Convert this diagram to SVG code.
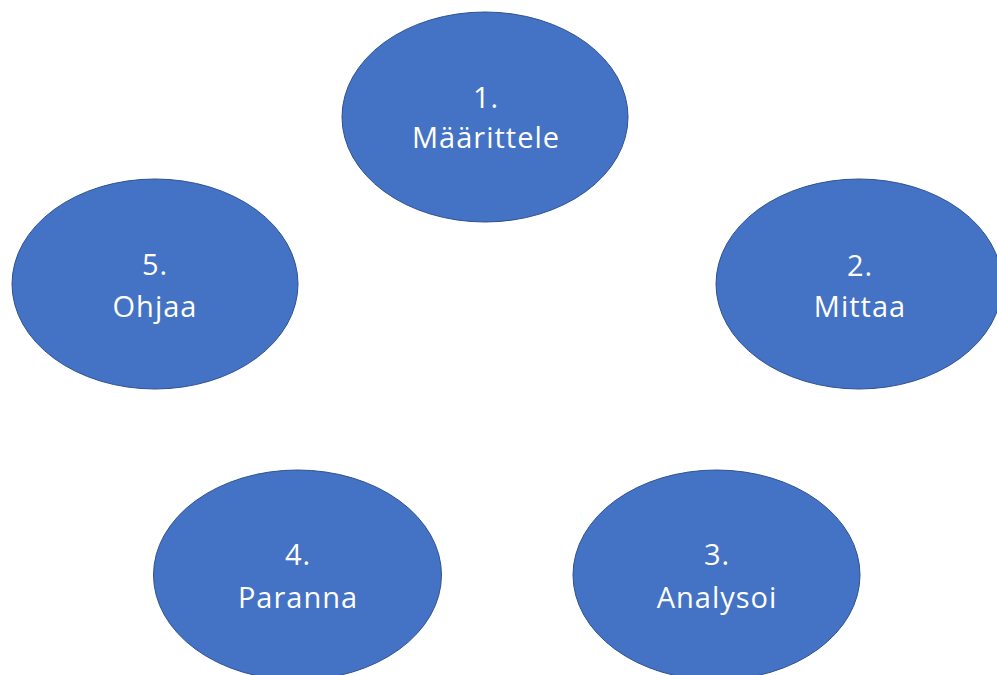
<svg xmlns="http://www.w3.org/2000/svg" width="997" height="675" viewBox="0 0 997 675">
<style>
.node ellipse{fill:#4472C4;stroke:#2F528F;stroke-width:1}
.node text{fill:#FFFFFF;font-family:"Open Sans","Noto Sans",sans-serif;font-size:29px;text-anchor:middle;letter-spacing:1px}
</style>
<rect width="997" height="675" fill="#FFFFFF"/>
<g id="connectors"></g>
<g id="node1" class="node">
<ellipse cx="485" cy="117" rx="143" ry="105"/>
<text x="486" y="108">1.</text>
<text x="486" y="148">Määrittele</text>
</g>
<g id="node2" class="node">
<ellipse cx="859" cy="284" rx="143" ry="105"/>
<text x="860" y="276">2.</text>
<text x="860" y="317">Mittaa</text>
</g>
<g id="node3" class="node">
<ellipse cx="716.5" cy="575" rx="143.5" ry="105"/>
<text x="717" y="565">3.</text>
<text x="717" y="608">Analysoi</text>
</g>
<g id="node4" class="node">
<ellipse cx="297.5" cy="575" rx="144" ry="105"/>
<text x="298" y="565">4.</text>
<text x="298" y="608">Paranna</text>
</g>
<g id="node5" class="node">
<ellipse cx="155" cy="284" rx="143" ry="105"/>
<text x="155" y="275">5.</text>
<text x="155" y="317">Ohjaa</text>
</g>
</svg>
